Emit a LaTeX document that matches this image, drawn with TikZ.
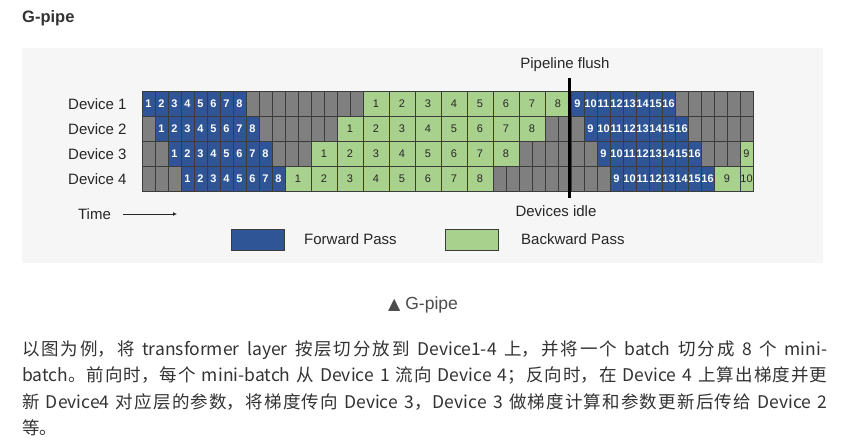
\documentclass[tikz,border=0pt]{standalone}
\usepackage{fontspec}
\setmainfont{Liberation Sans}
\newfontfamily\cjk{Noto Sans CJK SC}
\newfontfamily\symb{DejaVu Sans}
\usetikzlibrary{arrows.meta}

\XeTeXlinebreaklocale "zh"
\XeTeXlinebreakskip=0pt plus 1pt

\definecolor{fwdblue}{HTML}{2F5597}
\definecolor{bwdgreen}{HTML}{A9D18E}
\definecolor{idlegray}{HTML}{7F7F7F}
\definecolor{cellline}{HTML}{3C3C3C}
\definecolor{panelbg}{HTML}{F6F6F6}
\definecolor{headgray}{HTML}{333333}

\tikzset{
  cell/.style={draw=cellline, line width=0.6pt},
  fwdnum/.style={text=white, font=\fontsize{11}{11}\selectfont\bfseries, inner sep=0pt},
  bwdnum/.style={text=black!85, font=\fontsize{11}{11}\selectfont, inner sep=0pt},
  lbl/.style={font=\fontsize{15}{15}\selectfont, text=black!85, inner sep=0pt},
  legbox/.style={draw=cellline, line width=0.6pt, minimum width=53pt, minimum height=21pt, inner sep=0pt},
}

\begin{document}
\begin{tikzpicture}[x=1pt,y=-1pt]
    \useasboundingbox (0,0) rectangle (853,446);
    \fill[white] (0,0) rectangle (853,446);

    \node[anchor=base west, inner sep=0pt, font=\fontsize{16.5}{16.5}\selectfont\bfseries, text=headgray] (title) at (22,23) {G-pipe};

    % diagram panel
    \fill[panelbg] (22,48) rectangle (823,263);

    \foreach \r in {1,...,4}{
        \pgfmathsetmacro\ytop{91.5+25*(\r-1)}
        \node[lbl, anchor=west] (dev\r) at (68,\ytop+12.5) {Device \r};
        % idle slots
        \foreach \u in {0,...,46}
            \draw[cell, fill=idlegray] ({142+13*\u},\ytop) rectangle ++(13,25);
        % forward, micro-batches 1-8
        \foreach \k in {1,...,8}{
            \pgfmathsetmacro\ux{142+13*(\r+\k-2)}
            \draw[cell, fill=fwdblue] (\ux,\ytop) rectangle ++(13,25);
            \node[fwdnum] (f\r-\k) at (\ux+6.5,\ytop+12.5) {\k};
        }
        % backward, micro-batches 1-8
        \foreach \k in {1,...,8}{
            \pgfmathsetmacro\ux{142+13*(11+2*(4-\r)+2*(\k-1))}
            \draw[cell, fill=bwdgreen] (\ux,\ytop) rectangle ++(26,25);
            \node[bwdnum] (b\r-\k) at (\ux+13,\ytop+12.5) {\k};
        }
        % forward, micro-batches 9-16
        \foreach \k in {9,...,16}{
            \pgfmathsetmacro\ux{142+13*(\r+23+\k)}
            \draw[cell, fill=fwdblue] (\ux,\ytop) rectangle ++(13,25);
            \node[fwdnum] (f\r-\k) at (\ux+6.5,\ytop+12.5) {\k};
        }
    }
    % backward of the next batch, cut at the right edge
    \foreach \r/\k/\u/\w in {4/9/44/26, 4/10/46/13, 3/9/46/13}{
        \pgfmathsetmacro\ytop{91.5+25*(\r-1)}
        \pgfmathsetmacro\ux{142+13*\u}
        \draw[cell, fill=bwdgreen] (\ux,\ytop) rectangle ++(\w,25);
        \node[bwdnum] (b\r-\k) at (\ux+\w/2,\ytop+12.5) {\k};
    }

    % pipeline flush
    \node[lbl] (flush) at (565,65) {Pipeline flush};
    \coordinate (flushtop) at (569.5,78);
    \coordinate (flushbot) at (569.5,198);
    \draw[line width=3pt] (flushtop) -- (flushbot);
    \node[lbl] (idle) at (556,211) {Devices idle};

    % time axis
    \node[lbl] (time) at (94.5,214) {Time};
    \coordinate (tstart) at (123,214);
    \coordinate (tend) at (177,214);
    \draw[-{Latex[length=4pt,width=4pt]}, line width=0.9pt, black!85] (tstart) -- (tend);

    % legend
    \node[legbox, fill=fwdblue] (legfwd) at (257.5,239.5) {};
    \node[lbl, anchor=west] (legfwdtxt) at (304,239.5) {Forward Pass};
    \node[legbox, fill=bwdgreen] (legbwd) at (472,239.5) {};
    \node[lbl, anchor=west] (legbwdtxt) at (521,239.5) {Backward Pass};

    % caption and text below
    \node[anchor=base, inner sep=0pt, font=\fontsize{17.5}{17.5}\selectfont, text=black!70] (caption) at (423,309) {{\symb\fontsize{16}{16}\selectfont ▲} G-pipe};

    \node[anchor=base west, inner sep=0pt, text width=805pt, align=justify, font=\cjk\fontsize{17.5}{26.5}\selectfont, text=black!80] (para) at (22,355)
        {以图为例，将 transformer layer 按层切分放到 Device1-4 上，并将一个 batch 切分成 8 个 mini-\linebreak
         batch。前向时，每个 mini-batch 从 Device 1 流向 Device 4；反向时，在 Device 4 上算出梯度并更\linebreak
         新 Device4 对应层的参数，将梯度传向 Device 3，Device 3 做梯度计算和参数更新后传给 Device 2\linebreak
         等。};
\end{tikzpicture}
\end{document}
